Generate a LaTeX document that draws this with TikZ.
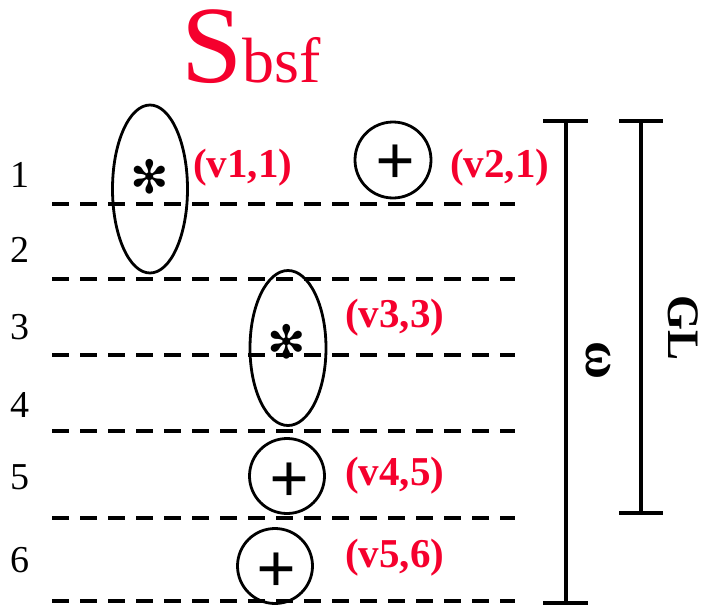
\documentclass[tikz,border=0pt]{standalone}
\usepackage{fontspec}
\setmainfont{Liberation Serif}
\newfontfamily\tnr{Liberation Serif}
\newfontfamily\djv{DejaVu Sans}
\usetikzlibrary{shapes.geometric}
\definecolor{lblred}{RGB}{245,0,45}
\tikzset{
  rowline/.style={line width=3.4pt,dash pattern=on 17pt off 11pt},
  vtx/.style={draw,line width=2.8pt,inner sep=0pt},
  plussign/.style={inner sep=0pt,font=\tnr\fontsize{70}{70}\selectfont\bfseries},
  lbl/.style={anchor=west,inner sep=0pt,text=lblred,font=\tnr\fontsize{41}{41}\selectfont\bfseries},
  rownum/.style={inner sep=0pt,font=\tnr\fontsize{38}{38}\selectfont},
  star/.style={inner sep=0pt,font=\djv\fontsize{46}{46}\selectfont},
  bar/.style={line width=3.4pt}
}
\begin{document}
\begin{tikzpicture}[x=1pt,y=-1pt]
  \useasboundingbox (0,0) rectangle (701,605);
  \node[anchor=base west,inner sep=0pt,text=lblred,text height=75pt,font=\tnr] (title) at (181,82)
    {\fontsize{110}{110}\selectfont S\fontsize{64}{64}\selectfont bsf};
  % rows and their dashed lines
  \foreach \n/\ty/\ly in {1/175/204,2/250/279,3/327/355,4/405/431,5/477/518,6/560/601}{
    \node[rownum] (row\n) at (20,\ty) {\n};
    \coordinate (ls\n) at (52,\ly);
    \coordinate (le\n) at (515,\ly);
    \draw[rowline] (ls\n) -- (le\n);
  }
  % vertices
  \node[vtx,ellipse,minimum width=75pt,minimum height=168pt] (e11) at (150,189) {};
  \node[star] (st11) at (150,177) {✻};
  \node[vtx,circle,minimum size=76pt] (c21) at (393,160) {};
  \node[plussign] (p21) at (395,165) {+};
  \node[vtx,ellipse,minimum width=76pt,minimum height=155pt] (e33) at (288,348) {};
  \node[star] (st33) at (287,342) {✻};
  \node[vtx,circle,minimum size=75pt] (c45) at (287,476) {};
  \node[plussign] (p45) at (289,483) {+};
  \node[vtx,circle,minimum size=75pt] (c56) at (275,566) {};
  \node[plussign] (p56) at (276,573) {+};
  \node[lbl] (l11) at (193,168) {(v1,1)};
  \node[lbl] (l21) at (450,168) {(v2,1)};
  \node[lbl] (l33) at (345,318) {(v3,3)};
  \node[lbl] (l45) at (345,476) {(v4,5)};
  \node[lbl] (l56) at (345,558) {(v5,6)};
  % range bars
  \coordinate (wt) at (566,121);
  \coordinate (wb) at (566,603);
  \coordinate (gt) at (641,121);
  \coordinate (gb) at (641,513);
  \draw[bar] (wt) -- (wb);
  \draw[bar] ([xshift=-23pt]wt) -- ([xshift=22pt]wt);
  \draw[bar] ([xshift=-23pt]wb) -- ([xshift=22pt]wb);
  \draw[bar] (gt) -- (gb);
  \draw[bar] ([xshift=-22pt]gt) -- ([xshift=22pt]gt);
  \draw[bar] ([xshift=-22pt]gb) -- ([xshift=22pt]gb);
  \node[rotate=-90,inner sep=0pt,text height=24pt,text depth=0pt,font=\tnr\fontsize{52}{52}\selectfont\bfseries] (omega) at (598,360) {ω};
  \node[rotate=-90,inner sep=0pt,text height=30pt,text depth=0pt,font=\tnr\fontsize{45}{45}\selectfont\bfseries] (gl) at (683,328) {GL};
\end{tikzpicture}
\end{document}
